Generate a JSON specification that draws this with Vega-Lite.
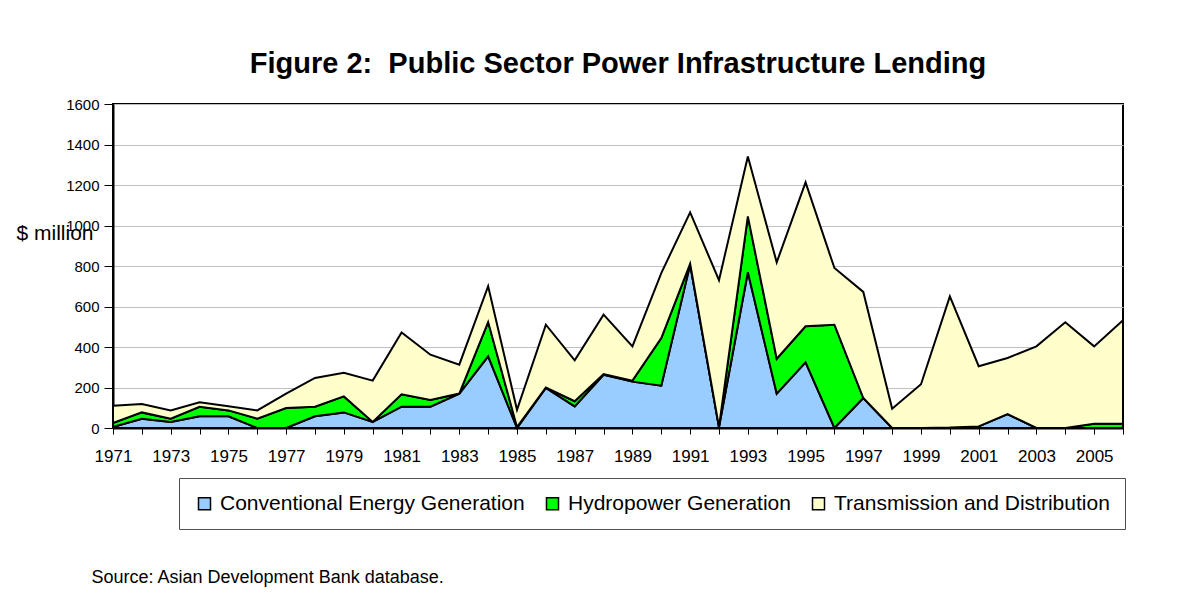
{
  "$schema": "https://vega.github.io/schema/vega-lite/v6.json",
  "autosize": {"type": "none"},
  "padding": {"left": 113, "top": 104, "right": 55, "bottom": 167},
  "width": 1010,
  "height": 324,
  "background": "white",
  "title": {
    "text": "Figure 2:\u00a0 Public Sector Power Infrastructure Lending",
    "font": "Liberation Sans",
    "fontSize": 29,
    "fontWeight": "bold",
    "color": "black",
    "anchor": "middle",
    "frame": "group",
    "baseline": "alphabetic",
    "offset": 32,
    "dy": 37
  },
  "data": {
    "values": [
      {"year": 1971, "type": "Conventional Energy Generation", "value": 5},
      {"year": 1971, "type": "Hydropower Generation", "value": 20},
      {"year": 1971, "type": "Transmission and Distribution", "value": 85},
      {"year": 1972, "type": "Conventional Energy Generation", "value": 46},
      {"year": 1972, "type": "Hydropower Generation", "value": 31},
      {"year": 1972, "type": "Transmission and Distribution", "value": 41},
      {"year": 1973, "type": "Conventional Energy Generation", "value": 30},
      {"year": 1973, "type": "Hydropower Generation", "value": 16},
      {"year": 1973, "type": "Transmission and Distribution", "value": 40},
      {"year": 1974, "type": "Conventional Energy Generation", "value": 58},
      {"year": 1974, "type": "Hydropower Generation", "value": 47},
      {"year": 1974, "type": "Transmission and Distribution", "value": 22},
      {"year": 1975, "type": "Conventional Energy Generation", "value": 58},
      {"year": 1975, "type": "Hydropower Generation", "value": 29},
      {"year": 1975, "type": "Transmission and Distribution", "value": 20},
      {"year": 1976, "type": "Conventional Energy Generation", "value": 0},
      {"year": 1976, "type": "Hydropower Generation", "value": 46},
      {"year": 1976, "type": "Transmission and Distribution", "value": 41},
      {"year": 1977, "type": "Conventional Energy Generation", "value": 0},
      {"year": 1977, "type": "Hydropower Generation", "value": 99},
      {"year": 1977, "type": "Transmission and Distribution", "value": 71},
      {"year": 1978, "type": "Conventional Energy Generation", "value": 58},
      {"year": 1978, "type": "Hydropower Generation", "value": 47},
      {"year": 1978, "type": "Transmission and Distribution", "value": 142},
      {"year": 1979, "type": "Conventional Energy Generation", "value": 77},
      {"year": 1979, "type": "Hydropower Generation", "value": 79},
      {"year": 1979, "type": "Transmission and Distribution", "value": 117},
      {"year": 1980, "type": "Conventional Energy Generation", "value": 30},
      {"year": 1980, "type": "Hydropower Generation", "value": 0},
      {"year": 1980, "type": "Transmission and Distribution", "value": 204},
      {"year": 1981, "type": "Conventional Energy Generation", "value": 105},
      {"year": 1981, "type": "Hydropower Generation", "value": 61},
      {"year": 1981, "type": "Transmission and Distribution", "value": 306},
      {"year": 1982, "type": "Conventional Energy Generation", "value": 105},
      {"year": 1982, "type": "Hydropower Generation", "value": 33},
      {"year": 1982, "type": "Transmission and Distribution", "value": 224},
      {"year": 1983, "type": "Conventional Energy Generation", "value": 170},
      {"year": 1983, "type": "Hydropower Generation", "value": 0},
      {"year": 1983, "type": "Transmission and Distribution", "value": 143},
      {"year": 1984, "type": "Conventional Energy Generation", "value": 354},
      {"year": 1984, "type": "Hydropower Generation", "value": 169},
      {"year": 1984, "type": "Transmission and Distribution", "value": 177},
      {"year": 1985, "type": "Conventional Energy Generation", "value": 0},
      {"year": 1985, "type": "Hydropower Generation", "value": 5},
      {"year": 1985, "type": "Transmission and Distribution", "value": 85},
      {"year": 1986, "type": "Conventional Energy Generation", "value": 198},
      {"year": 1986, "type": "Hydropower Generation", "value": 2},
      {"year": 1986, "type": "Transmission and Distribution", "value": 310},
      {"year": 1987, "type": "Conventional Energy Generation", "value": 107},
      {"year": 1987, "type": "Hydropower Generation", "value": 25},
      {"year": 1987, "type": "Transmission and Distribution", "value": 202},
      {"year": 1988, "type": "Conventional Energy Generation", "value": 263},
      {"year": 1988, "type": "Hydropower Generation", "value": 3},
      {"year": 1988, "type": "Transmission and Distribution", "value": 294},
      {"year": 1989, "type": "Conventional Energy Generation", "value": 229},
      {"year": 1989, "type": "Hydropower Generation", "value": 5},
      {"year": 1989, "type": "Transmission and Distribution", "value": 169},
      {"year": 1990, "type": "Conventional Energy Generation", "value": 209},
      {"year": 1990, "type": "Hydropower Generation", "value": 235},
      {"year": 1990, "type": "Transmission and Distribution", "value": 321},
      {"year": 1991, "type": "Conventional Energy Generation", "value": 807},
      {"year": 1991, "type": "Hydropower Generation", "value": 4},
      {"year": 1991, "type": "Transmission and Distribution", "value": 254},
      {"year": 1992, "type": "Conventional Energy Generation", "value": 5},
      {"year": 1992, "type": "Hydropower Generation", "value": 0},
      {"year": 1992, "type": "Transmission and Distribution", "value": 725},
      {"year": 1993, "type": "Conventional Energy Generation", "value": 769},
      {"year": 1993, "type": "Hydropower Generation", "value": 276},
      {"year": 1993, "type": "Transmission and Distribution", "value": 296},
      {"year": 1994, "type": "Conventional Energy Generation", "value": 170},
      {"year": 1994, "type": "Hydropower Generation", "value": 172},
      {"year": 1994, "type": "Transmission and Distribution", "value": 476},
      {"year": 1995, "type": "Conventional Energy Generation", "value": 324},
      {"year": 1995, "type": "Hydropower Generation", "value": 178},
      {"year": 1995, "type": "Transmission and Distribution", "value": 711},
      {"year": 1996, "type": "Conventional Energy Generation", "value": 0},
      {"year": 1996, "type": "Hydropower Generation", "value": 510},
      {"year": 1996, "type": "Transmission and Distribution", "value": 280},
      {"year": 1997, "type": "Conventional Energy Generation", "value": 148},
      {"year": 1997, "type": "Hydropower Generation", "value": 0},
      {"year": 1997, "type": "Transmission and Distribution", "value": 524},
      {"year": 1998, "type": "Conventional Energy Generation", "value": 0},
      {"year": 1998, "type": "Hydropower Generation", "value": 0},
      {"year": 1998, "type": "Transmission and Distribution", "value": 95},
      {"year": 1999, "type": "Conventional Energy Generation", "value": 0},
      {"year": 1999, "type": "Hydropower Generation", "value": 0},
      {"year": 1999, "type": "Transmission and Distribution", "value": 216},
      {"year": 2000, "type": "Conventional Energy Generation", "value": 2},
      {"year": 2000, "type": "Hydropower Generation", "value": 0},
      {"year": 2000, "type": "Transmission and Distribution", "value": 648},
      {"year": 2001, "type": "Conventional Energy Generation", "value": 8},
      {"year": 2001, "type": "Hydropower Generation", "value": 0},
      {"year": 2001, "type": "Transmission and Distribution", "value": 297},
      {"year": 2002, "type": "Conventional Energy Generation", "value": 69},
      {"year": 2002, "type": "Hydropower Generation", "value": 0},
      {"year": 2002, "type": "Transmission and Distribution", "value": 277},
      {"year": 2003, "type": "Conventional Energy Generation", "value": 0},
      {"year": 2003, "type": "Hydropower Generation", "value": 0},
      {"year": 2003, "type": "Transmission and Distribution", "value": 403},
      {"year": 2004, "type": "Conventional Energy Generation", "value": 0},
      {"year": 2004, "type": "Hydropower Generation", "value": 0},
      {"year": 2004, "type": "Transmission and Distribution", "value": 522},
      {"year": 2005, "type": "Conventional Energy Generation", "value": 0},
      {"year": 2005, "type": "Hydropower Generation", "value": 21},
      {"year": 2005, "type": "Transmission and Distribution", "value": 382},
      {"year": 2006, "type": "Conventional Energy Generation", "value": 0},
      {"year": 2006, "type": "Hydropower Generation", "value": 21},
      {"year": 2006, "type": "Transmission and Distribution", "value": 511}
    ]
  },
  "mark": {"type": "area", "stroke": "black", "strokeWidth": 2, "strokeJoin": "miter", "interpolate": "linear"},
  "encoding": {
    "x": {
      "field": "year",
      "type": "quantitative",
      "scale": {"domain": [1971, 2006], "nice": false, "zero": false},
      "axis": {
        "values": [1971,1972,1973,1974,1975,1976,1977,1978,1979,1980,1981,1982,1983,1984,1985,1986,1987,1988,1989,1990,1991,1992,1993,1994,1995,1996,1997,1998,1999,2000,2001,2002,2003,2004,2005,2006],
        "format": "d",
        "labelExpr": "datum.value % 2 == 1 ? datum.label : ''",
        "labelOverlap": false,
        "labelFlush": false,
        "labelFontSize": 17,
        "labelBaseline": "alphabetic",
        "labelPadding": 27,
        "tickSize": 6,
        "grid": false,
        "title": "Source: Asian Development Bank database.",
        "titleFontSize": 18,
        "titleFontWeight": "normal",
        "titleAlign": "left",
        "titleAnchor": "start",
        "titleBaseline": "alphabetic",
        "titleX": -22,
        "titleY": 154
      }
    },
    "y": {
      "field": "value",
      "type": "quantitative",
      "stack": "zero",
      "scale": {"domain": [0, 1600], "nice": false},
      "axis": {
        "values": [0, 200, 400, 600, 800, 1000, 1200, 1400, 1600],
        "format": "d",
        "labelFontSize": 15,
        "tickSize": 9,
        "labelPadding": 5,
        "grid": true,
        "gridColor": "#C0C0C0",
        "gridWidth": 1,
        "title": "$ million",
        "titleAngle": 0,
        "titleFontSize": 21,
        "titleFontWeight": "normal",
        "titleAlign": "left",
        "titleBaseline": "alphabetic",
        "titleX": -97,
        "titleY": 135
      }
    },
    "color": {
      "field": "type",
      "type": "nominal",
      "scale": {
        "domain": ["Conventional Energy Generation", "Hydropower Generation", "Transmission and Distribution"],
        "range": ["#99CCFF", "#00FF00", "#FFFFCC"]
      },
      "legend": {
        "title": null,
        "orient": "none",
        "direction": "horizontal",
        "legendX": 66,
        "legendY": 374,
        "symbolType": "square",
        "symbolSize": 144,
        "symbolStrokeColor": "black",
        "symbolStrokeWidth": 1.5,
        "symbolOpacity": 1,
        "labelFontSize": 21,
        "labelOffset": 5,
        "columnPadding": 17,
        "padding": 15,
        "strokeColor": "#505050",
        "fillColor": "white",
        "labelLimit": 400
      }
    },
    "order": {"field": "type", "sort": "ascending"}
  },
  "config": {
    "font": "Liberation Sans",
    "view": {"stroke": "black", "strokeWidth": 2},
    "axis": {
      "domainColor": "black",
      "domainWidth": 2,
      "tickColor": "black",
      "tickWidth": 1,
      "labelColor": "black",
      "titleColor": "black",
      "labelFont": "Liberation Sans",
      "titleFont": "Liberation Sans"
    },
    "legend": {"labelColor": "black", "labelFont": "Liberation Sans"}
  }
}
